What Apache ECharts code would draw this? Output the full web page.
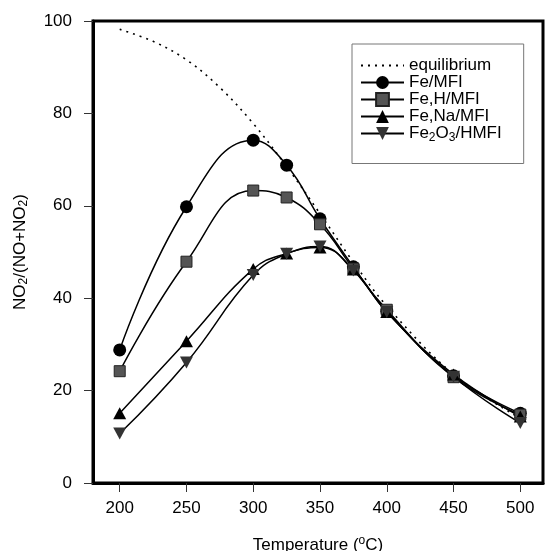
<!DOCTYPE html>
<html>
<head>
<meta charset="utf-8">
<script src="https://cdn.jsdelivr.net/npm/echarts@6/dist/echarts.min.js"></script>
<style>html,body{margin:0;padding:0;background:#fff}#c{width:545px;height:551px}</style>
</head>
<body>
<div id="c"></div>
<script>
const temps = [200, 250, 300, 325, 350, 375, 400, 450, 500];
const eqTemps = [200, 225, 250, 275, 300, 325, 350, 375, 400, 450, 500];
const equilibrium = [98.2, 95.6, 91.6, 85.6, 77.8, 68.5, 58.3, 47.8, 38.3, 23.5, 14];
const feMFI = [28.8, 59.8, 74.2, 68.8, 57.2, 46.8, 37.2, 23.2, 15.1];
const feHMFI = [24.2, 47.9, 63.3, 61.8, 56.0, 46.4, 37.5, 22.9, 14.8];
const feNaMFI = [15.1, 30.7, 46.3, 49.7, 51.0, 46.2, 37.0, 23.5, 14.4];
const fe2o3HMFI = [10.7, 26.1, 45.0, 49.6, 51.2, 46.0, 37.0, 23.0, 13.0];
const xTicks = [200, 250, 300, 350, 400, 450, 500];
const yTicks = [0, 20, 40, 60, 80, 100];
const names = ['equilibrium', 'Fe/MFI', 'Fe,H/MFI', 'Fe,Na/MFI', 'Fe2O3/HMFI'];

const pairs = (xs, ys) => xs.map((x, i) => [x, ys[i]]);
const font = 'Liberation Sans, Arial, sans-serif';

const chart = echarts.init(document.getElementById('c'));
const lineBase = { type: 'line', smooth: 0.45, lineStyle: { color: '#000', width: 1.5 }, z: 3 };
chart.setOption({
  animation: false,
  backgroundColor: '#fff',
  textStyle: { fontFamily: font },
  grid: { left: 93, top: 21, right: 2, bottom: 68, show: true, borderColor: '#000', borderWidth: 3, outerBoundsMode: 'none' },
  xAxis: {
    type: 'value', min: 180, max: 517,
    axisLine: { lineStyle: { color: '#000', width: 3 } },
    axisTick: { customValues: xTicks, length: 9, lineStyle: { color: '#333', width: 1 } },
    axisLabel: { customValues: xTicks, fontSize: 17, color: '#000', margin: 17, fontFamily: font },
    splitLine: { show: false },
    name: 'Temperature ({sup|o}C)', nameLocation: 'middle', nameGap: 52,
    nameTextStyle: { fontSize: 17, color: '#000', fontFamily: font, rich: { sup: { fontSize: 12, padding: [0, 0, 8, 0], fontFamily: font, color: '#000' } } }
  },
  yAxis: {
    type: 'value', min: 0, max: 100, interval: 20,
    axisLine: { lineStyle: { color: '#000', width: 3 } },
    axisTick: { length: 9, lineStyle: { color: '#333', width: 1 } },
    axisLabel: { fontSize: 17, color: '#000', margin: 21, fontFamily: font },
    splitLine: { show: false },
    name: 'NO{sub|2}/(NO+NO{sub|2})', nameLocation: 'middle', nameGap: 63,
    nameTextStyle: { fontSize: 17, color: '#000', fontFamily: font, rich: { sub: { fontSize: 12, padding: [8, 0, 0, 0], fontFamily: font, color: '#000' } } }
  },
  legend: {
    orient: 'vertical', left: 352, top: 44,
    padding: [13, 22, 20, 8],
    borderColor: '#777', borderWidth: 1, backgroundColor: '#fff',
    itemWidth: 43, itemHeight: 16, itemGap: 0,
    data: [{ name: names[0], itemStyle: { opacity: 0 } }, names[1], names[2], names[3], names[4]],
    textStyle: { fontSize: 17, color: '#000', lineHeight: 17, fontFamily: font,
      rich: { n: { fontSize: 17, fontFamily: font, color: '#000' }, s: { fontSize: 12, padding: [8, 0, 0, 0], fontFamily: font, color: '#000' } } },
    formatter: function (n) { return n === 'Fe2O3/HMFI' ? '{n|Fe}{s|2}{n|O}{s|3}{n|/HMFI}' : n; }
  },
  series: [
    { name: 'equilibrium', type: 'line', smooth: 0.35, symbol: 'none', data: pairs(eqTemps, equilibrium),
      lineStyle: { color: '#000', width: 1.6, type: [2, 5] }, itemStyle: { color: '#000' }, z: 2 },
    Object.assign({}, lineBase, { name: 'Fe/MFI', symbol: 'circle', symbolSize: 13, data: pairs(temps, feMFI), itemStyle: { color: '#000' } }),
    Object.assign({}, lineBase, { name: 'Fe,H/MFI', symbol: 'rect', symbolSize: 11, data: pairs(temps, feHMFI), itemStyle: { color: '#555', borderColor: '#222', borderWidth: 1 } }),
    Object.assign({}, lineBase, { name: 'Fe,Na/MFI', symbol: 'triangle', symbolSize: [13, 12], data: pairs(temps, feNaMFI), itemStyle: { color: '#000' } }),
    Object.assign({}, lineBase, { name: 'Fe2O3/HMFI', symbol: 'triangle', symbolRotate: 180, symbolSize: [13, 12], data: pairs(temps, fe2o3HMFI), itemStyle: { color: '#333' } })
  ]
});
</script>
</body>
</html>
